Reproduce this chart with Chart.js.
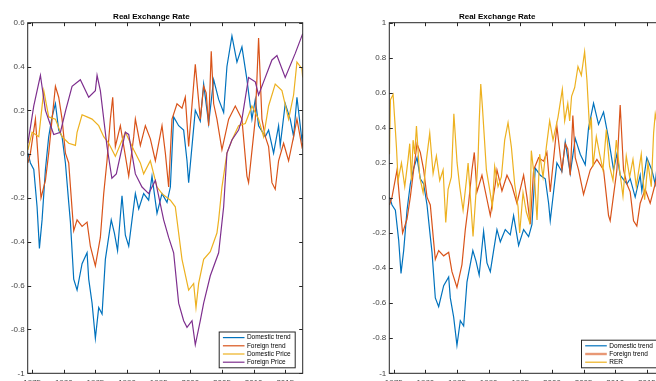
<!DOCTYPE html>
<html>
<head>
<meta charset="utf-8">
<script src="https://cdn.jsdelivr.net/npm/chart.js@4.4.1/dist/chart.umd.min.js"></script>
<style>
  html, body { margin: 0; padding: 0; background: #fff; }
  #wrap { position: relative; width: 656px; height: 381px; overflow: hidden; }
  #left { position: absolute; left: 0; top: 0; }
  #right { position: absolute; left: 330px; top: 0; }
</style>
</head>
<body>
<div id="wrap">
  <canvas id="left" width="330" height="395"></canvas>
  <canvas id="right" width="350" height="395"></canvas>
</div>
<script>
// data: [year, value]
const domesticTrend = [[1974.33,0.005],[1974.73,-0.04],[1975.26,-0.07],[1975.78,-0.24],[1976.15,-0.43],[1976.57,-0.30],[1977.1,-0.07],[1977.62,0.08],[1978.15,0.17],[1978.68,0.23],[1979.2,0.11],[1979.73,0.08],[1980.26,-0.04],[1980.78,-0.22],[1981.05,-0.31],[1981.57,-0.57],[1982.1,-0.62],[1982.89,-0.50],[1983.68,-0.45],[1983.94,-0.57],[1984.47,-0.68],[1984.99,-0.84],[1985.52,-0.70],[1986.05,-0.73],[1986.57,-0.48],[1987.5,-0.30],[1988.0,-0.36],[1988.5,-0.44],[1989.2,-0.19],[1989.73,-0.37],[1990.26,-0.42],[1990.78,-0.30],[1991.31,-0.18],[1991.84,-0.25],[1992.62,-0.18],[1993.41,-0.21],[1993.94,-0.10],[1994.73,-0.27],[1995.52,-0.18],[1996.31,-0.22],[1996.84,-0.15],[1997.36,0.17],[1998.15,0.13],[1998.94,0.11],[1999.47,-0.03],[1999.73,-0.13],[2000.78,0.20],[2001.57,0.15],[2002.1,0.32],[2002.89,0.14],[2003.68,0.34],[2004.47,0.25],[2005.26,0.19],[2005.78,0.40],[2006.57,0.54],[2007.36,0.42],[2008.15,0.49],[2008.94,0.34],[2009.73,0.16],[2010.26,0.25],[2010.78,0.13],[2011.84,0.08],[2012.36,0.11],[2013.15,0.005],[2013.94,0.13],[2014.2,0.04],[2014.99,0.23],[2015.78,0.16],[2016.31,0.08],[2016.84,0.26],[2017.62,0.065],[2017.75,0.09]];

const foreignTrend = [[1974.33,-0.04],[1974.73,0.005],[1975.52,0.16],[1976.05,-0.06],[1976.4,-0.20],[1977.1,-0.12],[1977.62,0.005],[1978.15,0.16],[1978.68,0.31],[1979.2,0.26],[1979.73,0.16],[1980.26,0.005],[1980.78,-0.04],[1981.31,-0.25],[1981.57,-0.35],[1982.1,-0.30],[1982.89,-0.33],[1983.68,-0.31],[1984.2,-0.42],[1984.99,-0.51],[1985.78,-0.38],[1986.31,-0.18],[1986.83,-0.03],[1987.36,0.16],[1987.73,0.26],[1988.15,0.035],[1988.94,0.13],[1990.26,-0.10],[1991.05,0.08],[1991.31,0.16],[1992.1,0.04],[1992.89,0.13],[1993.68,0.07],[1994.47,-0.03],[1995.52,0.13],[1996.05,0.005],[1996.57,-0.15],[1997.1,0.16],[1997.89,0.23],[1998.68,0.21],[1999.2,0.26],[1999.73,0.035],[2000.78,0.41],[2001.57,0.16],[2002.1,0.31],[2002.5,0.28],[2002.89,0.13],[2003.3,0.47],[2003.68,0.23],[2004.2,0.16],[2004.99,0.02],[2006.05,0.16],[2007.1,0.22],[2008.15,0.16],[2008.94,-0.10],[2009.2,-0.13],[2010.26,0.16],[2010.78,0.53],[2011.31,0.16],[2011.84,0.08],[2012.36,0.035],[2012.89,-0.13],[2013.41,-0.16],[2013.94,-0.03],[2014.73,0.05],[2015.52,-0.03],[2016.31,0.08],[2016.84,0.16],[2017.62,0.035],[2017.75,0.05]];

const domesticPrice = [[1974.33,0.02],[1975.0,0.10],[1976.05,0.08],[1976.84,0.29],[1977.62,0.17],[1978.68,0.16],[1979.73,0.08],[1980.78,0.05],[1981.84,0.04],[1982.1,0.10],[1982.89,0.18],[1983.68,0.17],[1984.47,0.16],[1985.52,0.13],[1986.31,0.08],[1987.1,0.05],[1988.15,-0.01],[1989.73,0.10],[1991.05,0.02],[1992.1,-0.04],[1992.62,-0.09],[1993.68,-0.03],[1994.73,-0.15],[1995.52,-0.18],[1996.84,-0.21],[1997.62,-0.24],[1998.68,-0.48],[1999.73,-0.62],[2000.52,-0.59],[2000.89,-0.70],[2001.31,-0.59],[2002.1,-0.48],[2003.15,-0.445],[2004.2,-0.36],[2004.47,-0.30],[2004.99,-0.15],[2005.78,0.005],[2006.57,0.065],[2007.62,0.13],[2008.68,0.14],[2009.73,0.22],[2010.78,0.16],[2011.57,0.08],[2012.36,0.22],[2013.41,0.32],[2014.47,0.29],[2015.52,0.16],[2016.31,0.27],[2016.84,0.42],[2017.62,0.39],[2017.75,0.35]];

const foreignPrice = [[1974.33,0.05],[1975.26,0.22],[1976.31,0.36],[1977.1,0.20],[1978.41,0.09],[1979.47,0.10],[1980.3,0.20],[1981.31,0.31],[1982.62,0.34],[1983.94,0.26],[1984.99,0.29],[1985.26,0.36],[1985.78,0.29],[1986.83,0.035],[1987.6,-0.11],[1988.3,-0.09],[1989.73,0.10],[1990.26,0.09],[1991.31,-0.09],[1992.36,-0.15],[1993.41,-0.18],[1994.47,-0.12],[1995.78,-0.30],[1996.57,-0.38],[1997.36,-0.45],[1998.15,-0.68],[1998.94,-0.76],[1999.47,-0.79],[2000.26,-0.76],[2000.78,-0.87],[2001.57,-0.76],[2002.1,-0.68],[2003.15,-0.555],[2004.47,-0.45],[2005.26,-0.24],[2005.78,0.005],[2006.57,0.065],[2007.62,0.11],[2008.15,0.16],[2009.2,0.35],[2010.26,0.33],[2010.78,0.27],[2011.57,0.33],[2012.89,0.43],[2013.68,0.45],[2014.99,0.35],[2016.57,0.46],[2017.62,0.54],[2017.75,0.55]];

const rer = [[1974.33,0.25],[1974.48,0.56],[1974.9,0.59],[1975.17,0.44],[1975.43,0.29],[1975.69,0.10],[1976.22,0.20],[1976.74,0.065],[1977.27,0.22],[1977.53,0.31],[1977.8,0.10],[1978.06,0.33],[1978.32,0.25],[1978.59,0.41],[1979.11,0.12],[1979.64,0.03],[1980.17,0.22],[1980.69,0.37],[1981.22,0.14],[1981.74,0.24],[1982.27,0.10],[1982.8,0.16],[1983.22,-0.14],[1983.59,0.05],[1984.11,0.12],[1984.5,0.48],[1985.01,0.20],[1985.43,0.065],[1985.96,-0.07],[1986.48,0.10],[1986.75,0.20],[1987.53,-0.22],[1988.06,0.065],[1988.32,0.22],[1988.5,0.43],[1988.75,0.65],[1989.01,0.52],[1989.64,0.16],[1990.17,0.045],[1990.59,-0.05],[1990.95,0.18],[1991.48,0.065],[1992.01,0.12],[1992.53,0.33],[1993.06,0.43],[1993.59,0.29],[1994.11,0.08],[1994.64,-0.05],[1994.9,-0.20],[1995.43,0.03],[1995.95,-0.08],[1996.48,-0.14],[1996.74,0.27],[1997.27,0.10],[1997.64,-0.125],[1998.06,0.25],[1998.59,0.12],[1999.11,0.29],[1999.64,0.44],[2000.17,0.33],[2000.95,0.46],[2001.64,0.62],[2002.01,0.44],[2002.5,0.54],[2002.8,0.44],[2003.1,0.58],[2003.59,0.63],[2004.11,0.75],[2004.64,0.70],[2005.16,0.835],[2005.53,0.67],[2005.95,0.39],[2006.22,0.46],[2006.48,0.18],[2007.01,0.35],[2007.53,0.25],[2008.06,0.16],[2008.59,0.39],[2009.11,0.18],[2009.64,0.10],[2010.17,0.33],[2010.69,0.16],[2011.22,0.01],[2011.74,0.24],[2012.27,0.12],[2012.8,0.22],[2013.32,0.065],[2014.11,0.25],[2014.64,-0.01],[2015.16,0.20],[2015.69,0.065],[2016.06,0.37],[2016.32,0.48],[2017.0,0.35],[2017.75,0.40]];

const yearTicks = [1975, 1980, 1985, 1990, 1995, 2000, 2005, 2010, 2015];
const leftYTicks = [-1, -0.8, -0.6, -0.4, -0.2, 0, 0.2, 0.4, 0.6];
const rightYTicks = [-1, -0.8, -0.6, -0.4, -0.2, 0, 0.2, 0.4, 0.6, 0.8, 1];
const leftLabels = ['Domestic trend', 'Foreign trend', 'Domestic Price', 'Foreign Price'];
const rightLabels = ['Domestic trend', 'Foreign trend', 'RER'];

const xMin = 1974.3, xMax = 2017.75;
const colors = { blue: '#0072BD', orange: '#D95319', yellow: '#EDB120', purple: '#7E2F8E' };
const fam = '"Liberation Sans", Arial, Helvetica, sans-serif';
const tickFont = { family: fam, size: 8 };

const toPoints = arr => arr.map(p => ({ x: p[0], y: p[1] }));

function line(label, data, color, order) {
  return { label, data: toPoints(data), borderColor: color, borderWidth: 1.2,
    pointRadius: 0, tension: 0, fill: false, order };
}

// MATLAB style box, inward ticks on all sides, legend in lower right
const matlabBox = {
  id: 'matlabBox',
  afterDatasetsDraw(chart, args, opts) {
    const { ctx, chartArea: a, scales: { x, y } } = chart;
    ctx.save();
    ctx.strokeStyle = '#262626';
    ctx.lineWidth = 1;
    ctx.strokeRect(a.left, a.top, a.right - a.left, a.bottom - a.top);
    ctx.beginPath();
    x.ticks.forEach(t => {
      const px = Math.round(x.getPixelForValue(t.value)) + 0.5;
      ctx.moveTo(px, a.bottom); ctx.lineTo(px, a.bottom - 3.5);
      ctx.moveTo(px, a.top); ctx.lineTo(px, a.top + 3.5);
    });
    y.ticks.forEach(t => {
      const py = Math.round(y.getPixelForValue(t.value)) + 0.5;
      ctx.moveTo(a.left, py); ctx.lineTo(a.left + 3.5, py);
      ctx.moveTo(a.right, py); ctx.lineTo(a.right - 3.5, py);
    });
    ctx.stroke();

    const items = opts.items;
    const rowH = 8.2, w = opts.width, h = 3 + items.length * rowH;
    const bx = a.right - 7.5 - w, by = a.bottom - 5.5 - h;
    ctx.fillStyle = '#fff';
    ctx.fillRect(bx, by, w, h);
    ctx.strokeStyle = '#262626';
    ctx.strokeRect(bx, by, w, h);
    ctx.font = '6.5px ' + fam;
    ctx.textBaseline = 'middle';
    items.forEach((it, i) => {
      const cy = by + 1.5 + rowH * (i + 0.5);
      ctx.strokeStyle = it.color;
      ctx.lineWidth = it.width || 1.2;
      ctx.beginPath();
      ctx.moveTo(bx + 3.7, cy); ctx.lineTo(bx + 25.3, cy);
      ctx.stroke();
      ctx.fillStyle = '#000';
      ctx.fillText(it.label, bx + 27.7, cy);
    });
    ctx.restore();
  }
};

function options(yMin, yMax, yTicks, yWidth, padRight, legend) {
  return {
    responsive: false,
    animation: false,
    layout: { padding: { left: 0, right: padRight, top: 0, bottom: 0 } },
    scales: {
      x: {
        type: 'linear', min: xMin, max: xMax,
        afterBuildTicks: s => { s.ticks = yearTicks.map(v => ({ value: v })); },
        afterFit: s => { s.height = 21.7; },
        grid: { display: false, drawTicks: false },
        border: { display: false },
        ticks: { font: tickFont, color: '#444', padding: 4.5, maxRotation: 0, autoSkip: false,
          callback: v => String(v) }
      },
      y: {
        type: 'linear', min: yMin, max: yMax,
        afterBuildTicks: s => { s.ticks = yTicks.map(v => ({ value: v })); },
        afterFit: s => { s.width = yWidth; },
        grid: { display: false, drawTicks: false },
        border: { display: false },
        ticks: { font: tickFont, color: '#444', padding: 3, autoSkip: false,
          callback: v => String(v) }
      }
    },
    plugins: {
      legend: { display: false },
      tooltip: { enabled: false },
      title: { display: true, text: 'Real Exchange Rate', color: '#000',
        font: { family: fam, size: 8, weight: 'bold' }, padding: { top: 11.5, bottom: 1.6 } },
      matlabBox: legend
    }
  };
}

new Chart(document.getElementById('left'), {
  type: 'line',
  data: { datasets: [
    line(leftLabels[0], domesticTrend, colors.blue, 3),
    line(leftLabels[1], foreignTrend, colors.orange, 2),
    line(leftLabels[2], domesticPrice, colors.yellow, 1),
    line(leftLabels[3], foreignPrice, colors.purple, 0)
  ] },
  options: options(-1, 0.6, leftYTicks, 27.7, 27.3, {
    width: 76,
    items: [
      { label: leftLabels[0], color: colors.blue },
      { label: leftLabels[1], color: colors.orange },
      { label: leftLabels[2], color: colors.yellow },
      { label: leftLabels[3], color: colors.purple }
    ]
  }),
  plugins: [matlabBox]
});

new Chart(document.getElementById('right'), {
  type: 'line',
  data: { datasets: [
    line(rightLabels[0], domesticTrend, colors.blue, 2),
    line(rightLabels[1], foreignTrend, colors.orange, 1),
    line(rightLabels[2], rer, colors.yellow, 0)
  ] },
  options: options(-1, 1, rightYTicks, 59.3, 15.7, {
    width: 75.3,
    items: [
      { label: rightLabels[0], color: colors.blue },
      { label: rightLabels[1], color: 'rgba(217,83,25,0.6)', width: 2.4 },
      { label: rightLabels[2], color: colors.yellow }
    ]
  }),
  plugins: [matlabBox]
});
</script>
</body>
</html>
